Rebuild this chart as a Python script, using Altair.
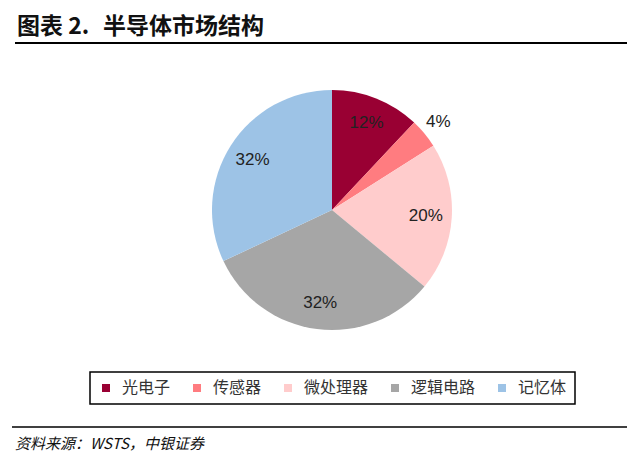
import altair as alt
import pandas as pd

# ---- data ----
CATEGORIES = ["光电子", "传感器", "微处理器", "逻辑电路", "记忆体"]
VALUES = [12, 4, 20, 32, 32]
COLORS = ["#990033", "#FF7C80", "#FFCCCC", "#A6A6A6", "#9DC3E6"]
TITLE_NO = "图表 2."
TITLE_TEXT = "半导体市场结构"
SOURCE = "资料来源：WSTS，中银证券"

CJK = "Noto Sans CJK SC"
NUM = "Liberation Sans Narrow, Arial Narrow, Liberation Sans, sans-serif"

W, H = 624, 453
CX, CY, R = 324, 202, 120

df = pd.DataFrame({"category": CATEGORIES, "value": VALUES})

base = (
    alt.Chart(df)
    .transform_window(idx="row_number()")
    .transform_calculate(
        inner="datum.value >= 10 ? datum.value + '%' : ''",
        outer="datum.value < 10 ? datum.value + '%' : ''",
    )
)

theta = alt.Theta("value:Q", stack=True)
order = alt.Order("idx:Q")

arcs = base.mark_arc(radius=R).encode(
    theta=theta,
    order=order,
    x=alt.value(CX),
    y=alt.value(CY),
    color=alt.Color(
        "category:N",
        scale=alt.Scale(domain=CATEGORIES, range=COLORS),
        sort=CATEGORIES,
        legend=alt.Legend(
            title=None,
            orient="none",
            legendX=82,
            legendY=364,
            direction="horizontal",
            columns=5,
            symbolType="square",
            symbolSize=64,
            symbolStrokeWidth=0,
            labelFont=CJK,
            labelFontSize=16,
            labelColor="#333333",
            labelOffset=8,
            columnPadding=18,
            padding=8,
            strokeColor="black",
            labelLimit=200,
        ),
    ),
)

inner_text = base.mark_text(
    radius=94, font=NUM, fontSize=17, color="#222222"
).encode(theta=theta, order=order, x=alt.value(CX), y=alt.value(CY), text="inner:N")

outer_text = base.mark_text(
    radius=138, font=NUM, fontSize=17, color="#222222"
).encode(theta=theta, order=order, x=alt.value(CX), y=alt.value(CY), text="outer:N")

title_df = pd.DataFrame({"no": [TITLE_NO], "t": [TITLE_TEXT]})
title_no = alt.Chart(title_df).mark_text(
    font=CJK, fontSize=23, fontWeight="bold", align="left", baseline="alphabetic", color="#111111"
).encode(x=alt.value(9), y=alt.value(26), text="no:N")
title_text = alt.Chart(title_df).mark_text(
    font=CJK, fontSize=23, fontWeight="bold", align="left", baseline="alphabetic", color="#111111"
).encode(x=alt.value(95), y=alt.value(26), text="t:N")

src_df = pd.DataFrame({"t": [SOURCE]})
source_text = alt.Chart(src_df).mark_text(
    font=CJK, fontSize=15, fontStyle="italic", align="left", baseline="alphabetic", color="#111111"
).encode(x=alt.value(7), y=alt.value(441), text="t:N")

top_rule = alt.Chart(title_df).mark_rule(color="black", strokeWidth=2).encode(
    x=alt.value(7), x2=alt.value(619), y=alt.value(35)
)
bottom_rule = alt.Chart(src_df).mark_rule(color="black", strokeWidth=1.5).encode(
    x=alt.value(4), x2=alt.value(619), y=alt.value(419)
)

chart = (
    alt.layer(arcs, inner_text, outer_text, title_no, title_text, source_text, top_rule, bottom_rule)
    .properties(width=W, height=H, padding=0, autosize="none")
    .configure_view(stroke=None)
    .configure_legend(strokeWidth=1.5)
)

chart.save("out.html", embed_options={"renderer": "svg", "actions": False})
